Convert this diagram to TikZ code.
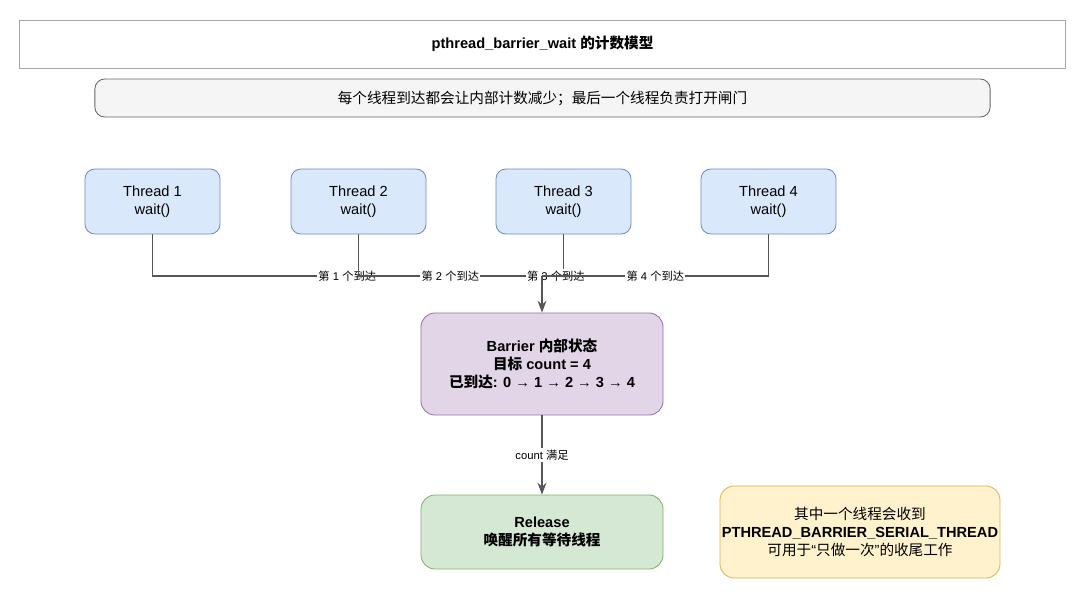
\documentclass[tikz,border=0pt]{standalone}
\usepackage{fontspec}
\setmainfont{Liberation Sans}
\newfontfamily\zhfont{Noto Sans CJK SC}
\newcommand{\zh}[1]{{\zhfont #1}}
\usetikzlibrary{arrows.meta}

\definecolor{threadfill}{HTML}{DAE8FC}
\definecolor{threadline}{HTML}{6C8EBF}
\definecolor{barrierfill}{HTML}{E1D5E7}
\definecolor{barrierline}{HTML}{9673A6}
\definecolor{releasefill}{HTML}{D5E8D4}
\definecolor{releaseline}{HTML}{82B366}
\definecolor{notefill}{HTML}{FFF2CC}
\definecolor{noteline}{HTML}{D6B656}
\definecolor{subfill}{HTML}{F5F5F5}
\definecolor{subline}{HTML}{666666}
\definecolor{linkgray}{HTML}{555555}

\begin{document}
\begin{tikzpicture}[
    x=0.025cm, y=-0.025cm,
    >=Stealth,
    every node/.style={font=\fontsize{10.4}{13}\selectfont, align=center},
    box/.style={draw, rounded corners=7pt, line width=0.6pt, inner sep=0pt},
    threadbox/.style={box, fill=threadfill, draw=threadline,
        minimum width=3.375cm, minimum height=1.625cm},
    link/.style={draw=linkgray, line width=1.2pt},
    lbl/.style={fill=white, inner sep=1pt, font=\fontsize{8}{9}\selectfont},
]
\useasboundingbox (0,0) rectangle (1080,594);

% === Header ===
\node[draw=gray!70, fill=white, line width=0.6pt, minimum width=26.125cm,
    minimum height=1.2cm] (title) at (542.5,44)
    {\textbf{pthread\_barrier\_wait \zh{的计数模型}}};
\node[box, fill=subfill, draw=subline, minimum width=22.375cm,
    minimum height=0.95cm] (sub) at (542.5,98)
    {\zh{每个线程到达都会让内部计数减少；最后一个线程负责打开闸门}};

% === Threads ===
\foreach \i/\x in {1/152.5, 2/358.5, 3/563.5, 4/768.5}
    \node[threadbox] (t\i) at (\x,201.5) {Thread \i\\wait()};

% === Barrier and release ===
\node[box, rounded corners=10pt, fill=barrierfill, draw=barrierline,
    minimum width=6.05cm, minimum height=2.55cm] (barrier) at (542,364)
    {\bfseries Barrier \zh{内部状态}\\
     \bfseries\zh{目标} count = 4\\
     \bfseries\zh{已到达}: 0 → 1 → 2 → 3 → 4};
\node[box, rounded corners=10pt, fill=releasefill, draw=releaseline,
    minimum width=6.05cm, minimum height=1.85cm] (release) at (542,532)
    {\bfseries Release\\ \bfseries\zh{唤醒所有等待线程}};
\node[box, rounded corners=10pt, fill=notefill, draw=noteline,
    minimum width=7cm, minimum height=2.3cm] (note) at (860,532)
    {\zh{其中一个线程会收到}\\
     \textbf{PTHREAD\_BARRIER\_SERIAL\_THREAD}\\
     \zh{可用于}“\zh{只做一次}”\zh{的收尾工作}};

% === Arrivals ===
\coordinate (merge) at (542,276);
\draw[link] (t1.south) |- (merge) node[lbl, pos=0.75] {\zh{第} 1 \zh{个到达}};
\draw[link] (t2.south) |- (merge) node[lbl, pos=0.75] {\zh{第} 2 \zh{个到达}};
\draw[link] (t3.south) |- (merge) node[lbl, pos=0.68] {\zh{第} 3 \zh{个到达}};
\draw[link] (t4.south) |- (merge) node[lbl, pos=0.75] {\zh{第} 4 \zh{个到达}};
\draw[link, ->] (merge) -- (barrier.north);

% === Release ===
\draw[link, ->] (barrier) -- (release) node[lbl, midway] {count \zh{满足}};

\end{tikzpicture}
\end{document}
